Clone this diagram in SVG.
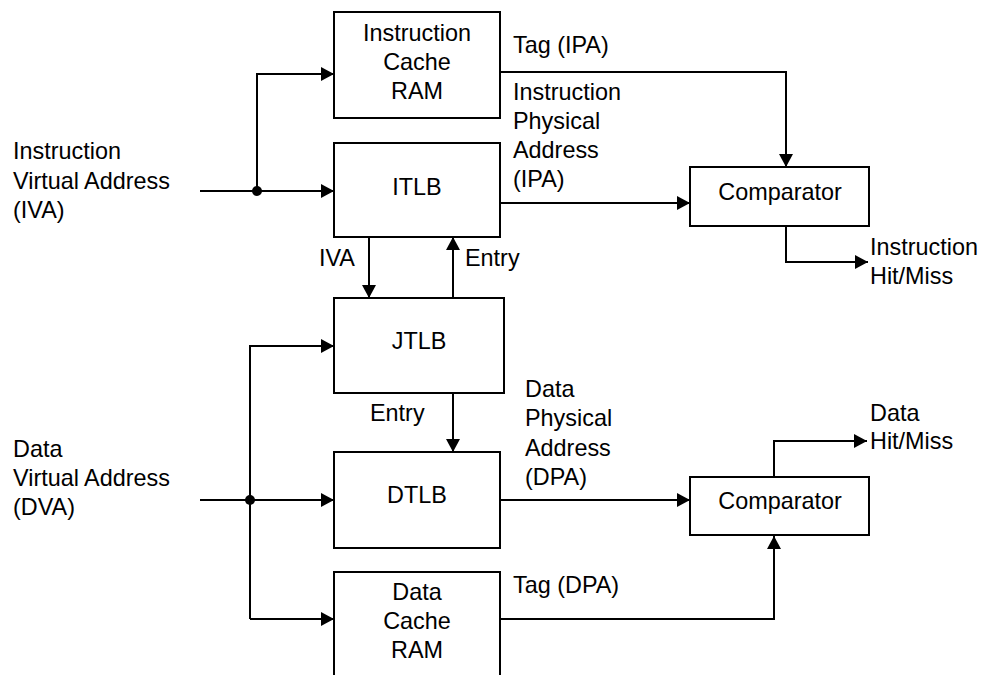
<svg xmlns="http://www.w3.org/2000/svg" width="982" height="675" viewBox="0 0 982 675">
<defs>
<style>
.box{fill:#fff;stroke:#000;stroke-width:2}
.ln{fill:none;stroke:#000;stroke-width:2}
text{font-family:"Liberation Sans",Arial,sans-serif;font-size:23.4px;fill:#000}
.c{text-anchor:middle}
</style>
<marker id="ah" markerUnits="userSpaceOnUse" markerWidth="14" markerHeight="14" viewBox="0 0 14 14" refX="13" refY="7" orient="auto">
<path d="M0,0 L13,7 L0,14 Z" fill="#000"/>
</marker>
</defs>
<rect width="982" height="675" fill="#fff"/>
<g id="connectors">
<path class="ln" d="M200,191 H334" marker-end="url(#ah)"/>
<path class="ln" d="M257,191 V74 H334" marker-end="url(#ah)"/>
<circle cx="257" cy="191" r="5"/>
<path class="ln" d="M500,72 H786 V167" marker-end="url(#ah)"/>
<path class="ln" d="M500,203 H690" marker-end="url(#ah)"/>
<path class="ln" d="M786,226 V262 H868" marker-end="url(#ah)"/>
<path class="ln" d="M369,237 V298" marker-end="url(#ah)"/>
<path class="ln" d="M453,298 V237" marker-end="url(#ah)"/>
<path class="ln" d="M453,393 V452" marker-end="url(#ah)"/>
<path class="ln" d="M200,500 H334" marker-end="url(#ah)"/>
<path class="ln" d="M250,619 V346 H334" marker-end="url(#ah)"/>
<path class="ln" d="M250,619 H334" marker-end="url(#ah)"/>
<circle cx="250" cy="500" r="5"/>
<path class="ln" d="M500,500 H690" marker-end="url(#ah)"/>
<path class="ln" d="M500,619 H774 V536" marker-end="url(#ah)"/>
<path class="ln" d="M774,477 V441 H867" marker-end="url(#ah)"/>
</g>
<g id="icache">
<rect class="box" x="334" y="12" width="166" height="106"/>
<text class="c" x="417" y="40.5">Instruction</text>
<text class="c" x="417" y="69.5">Cache</text>
<text class="c" x="417" y="99">RAM</text>
</g>
<g id="itlb">
<rect class="box" x="334" y="143" width="166" height="94"/>
<text class="c" x="417" y="195">ITLB</text>
</g>
<g id="jtlb">
<rect class="box" x="334" y="298" width="170" height="95"/>
<text class="c" x="419" y="349">JTLB</text>
</g>
<g id="dtlb">
<rect class="box" x="334" y="452" width="166" height="96"/>
<text class="c" x="417" y="503">DTLB</text>
</g>
<g id="dcache">
<rect class="box" x="334" y="572" width="166" height="130"/>
<text class="c" x="417" y="599.5">Data</text>
<text class="c" x="417" y="628.5">Cache</text>
<text class="c" x="417" y="657.5">RAM</text>
</g>
<g id="comp-i">
<rect class="box" x="690" y="167" width="179" height="59"/>
<text class="c" x="780" y="200">Comparator</text>
</g>
<g id="comp-d">
<rect class="box" x="690" y="477" width="179" height="58"/>
<text class="c" x="780" y="508.5">Comparator</text>
</g>
<g id="labels">
<text x="13" y="159">Instruction</text>
<text x="13" y="188.5">Virtual Address</text>
<text x="13" y="218">(IVA)</text>
<text x="13" y="457">Data</text>
<text x="13" y="486">Virtual Address</text>
<text x="13" y="515">(DVA)</text>
<text x="513" y="52.5">Tag (IPA)</text>
<text x="513" y="100">Instruction</text>
<text x="513" y="129">Physical</text>
<text x="513" y="158">Address</text>
<text x="513" y="187">(IPA)</text>
<text x="870" y="255">Instruction</text>
<text x="870" y="283.5">Hit/Miss</text>
<text x="319" y="266">IVA</text>
<text x="465" y="266">Entry</text>
<text x="370" y="421">Entry</text>
<text x="525" y="397">Data</text>
<text x="525" y="426">Physical</text>
<text x="525" y="455.5">Address</text>
<text x="525" y="484.5">(DPA)</text>
<text x="870" y="421">Data</text>
<text x="870" y="449">Hit/Miss</text>
<text x="513" y="593">Tag (DPA)</text>
</g>
</svg>
